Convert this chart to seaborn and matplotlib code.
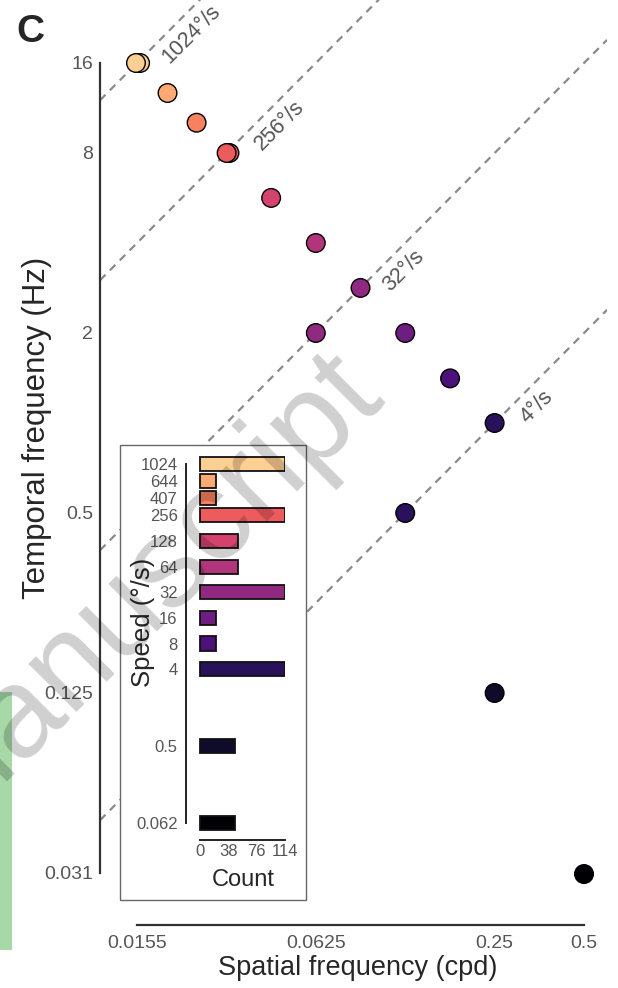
import numpy as np
import matplotlib
matplotlib.use("Agg")
import matplotlib.pyplot as plt
from matplotlib.patches import Rectangle
import seaborn as sns

sns.set_style("white")
plt.rcParams['font.family'] = ['Liberation Sans', 'DejaVu Sans']

# Points: spatial frequency (cpd), temporal frequency (Hz), speed (deg/s)
sf = [0.016, 0.0155, 0.0198, 0.0248, 0.032, 0.0313, 0.0442, 0.0625,
      0.0884, 0.0625, 0.125, 0.177, 0.25, 0.125, 0.25, 0.5]
tf = [16, 16, 12.7, 10.1, 8, 8, 5.66, 4, 2.83, 2, 2, 1.41, 1, 0.5, 0.125, 0.031]
point_speed = [1024, 1024, 644, 407, 256, 256, 128, 64, 32, 32, 16, 8, 4, 4, 0.5, 0.062]

# Inset: number of recordings per speed
speeds = [1024, 644, 407, 256, 128, 64, 32, 16, 8, 4, 0.5, 0.062]
speed_labels = ['1024', '644', '407', '256', '128', '64', '32', '16', '8', '4', '0.5', '0.062']
counts = [114, 21, 21, 114, 51, 51, 114, 21, 21, 114, 47, 47]

# Iso-speed guide lines
guide_speeds = [1024, 256, 32, 4]
guide_label_sf = [0.0178, 0.0365, 0.099, 0.285]

xticks = [2**-6, 0.0625, 0.25, 0.5]
xticklabels = ['0.0155', '0.0625', '0.25', '0.5']
yticks = [2**-5, 0.125, 0.5, 2, 8, 16]
yticklabels = ['0.031', '0.125', '0.5', '2', '8', '16']

cmap = sns.color_palette("magma", as_cmap=True)
colors = [cmap(v) for v in np.linspace(0.9, 0, len(speeds))]
palette = dict(zip(speeds, colors))

fig = plt.figure(figsize=(6.18, 9.88), dpi=100)
W, H = 618, 988

# main axes
ax = fig.add_axes([100 / W, 63 / H, 507 / W, 925 / H])
ax.set_xscale('log', base=2)
ax.set_yscale('log', base=2)
xlim = (2**-6.414, 2**-0.743)
ax.set_xlim(xlim)
ax.set_ylim(2**-5.578, 2**4.7)

xs = np.array(xlim)
for v, lsf in zip(guide_speeds, guide_label_sf):
    ax.plot(xs, v * xs, color='#8a8a8a', lw=1.6, ls=(0, (3.5, 2.8)), zorder=1)
    ax.annotate(f'{v}°/s', xy=(lsf, v * lsf), xytext=(3, -5), textcoords='offset points',
                rotation=45, rotation_mode='anchor', ha='left', va='top',
                fontsize=15.5, color='#555555')

sns.scatterplot(x=sf, y=tf, hue=point_speed, palette=palette, s=180,
                edgecolor='black', linewidth=1.0, legend=False, ax=ax, zorder=3)

for side in ['top', 'right']:
    ax.spines[side].set_visible(False)
ax.spines['left'].set_bounds(2**-5, 16)
ax.spines['bottom'].set_bounds(2**-6, 0.5)
for side in ['left', 'bottom']:
    ax.spines[side].set_color('#333333')
    ax.spines[side].set_linewidth(1.6)
ax.set_xticks(xticks)
ax.set_xticklabels(xticklabels)
ax.set_yticks(yticks)
ax.set_yticklabels(yticklabels)
ax.minorticks_off()
ax.tick_params(direction='in', length=6, width=1.6, color='#333333',
               labelcolor='#555555', labelsize=14)
ax.tick_params(axis='x', pad=7)
ax.tick_params(axis='y', pad=5)
ax.patch.set_alpha(0)

fig.text(358 / W, 1 - 968 / H, 'Spatial frequency (cpd)', ha='center', va='center', fontsize=19.5)
fig.text(37 / W, 1 - 428 / H, 'Temporal frequency (Hz)', ha='center', va='center',
         rotation=90, fontsize=22.5)
fig.text(16 / W, 1 - 42 / H, 'C', ha='left', va='baseline', fontsize=28, fontweight='bold')

# inset frame
frame = Rectangle((120 / W, 1 - 900 / H), 186 / W, 455 / H, transform=fig.transFigure,
                  facecolor='white', edgecolor='#666666', lw=1.0, zorder=1)
fig.add_artist(frame)

# green strip from neighbouring panel
strip = Rectangle((0, 1 - 950 / H), 12 / W, 258 / H, transform=fig.transFigure,
                  facecolor='#a6d8a8', edgecolor='none', zorder=1)
fig.add_artist(strip)

# inset bar chart
ax2 = fig.add_axes([186 / W, 1 - 840 / H, 99 / W, 385 / H], zorder=2)
ypos = np.log2(speeds)
ax2.barh(ypos, counts, height=0.55, color=colors, edgecolor='#111111', linewidth=1.3)
ax2.set_xlim(-18.8, 114)
ax2.set_ylim(-4.66, 10.35)
for side in ['top', 'right']:
    ax2.spines[side].set_visible(False)
ax2.spines['left'].set_bounds(ypos.min(), ypos.max())
ax2.spines['bottom'].set_bounds(0, 114)
for side in ['left', 'bottom']:
    ax2.spines[side].set_color('#222222')
    ax2.spines[side].set_linewidth(1.4)
ax2.set_yticks(ypos)
ax2.set_yticklabels(speed_labels)
ax2.set_xticks([0, 38, 76, 114])
ax2.tick_params(axis='y', direction='out', length=4, width=1.4, color='#222222',
                labelcolor='#555555', labelsize=12, pad=2)
ax2.tick_params(axis='x', direction='in', length=5, width=1.4, color='#222222',
                labelcolor='#555555', labelsize=12, pad=3)
ax2.patch.set_alpha(0)

fig.text(143 / W, 1 - 622 / H, 'Speed (°/s)', ha='center', va='center', rotation=90, fontsize=18.5)
fig.text(243 / W, 1 - 880 / H, 'Count', ha='center', va='center', fontsize=17)

# watermark (runs off the left edge, as in the source)
fig.text(-57 / W, 1 - 837 / H, 'manuscript', ha='left', va='baseline', rotation=45,
         rotation_mode='anchor', fontsize=92, color='black', alpha=0.19, zorder=5)

fig.savefig('out.png', dpi=100)
